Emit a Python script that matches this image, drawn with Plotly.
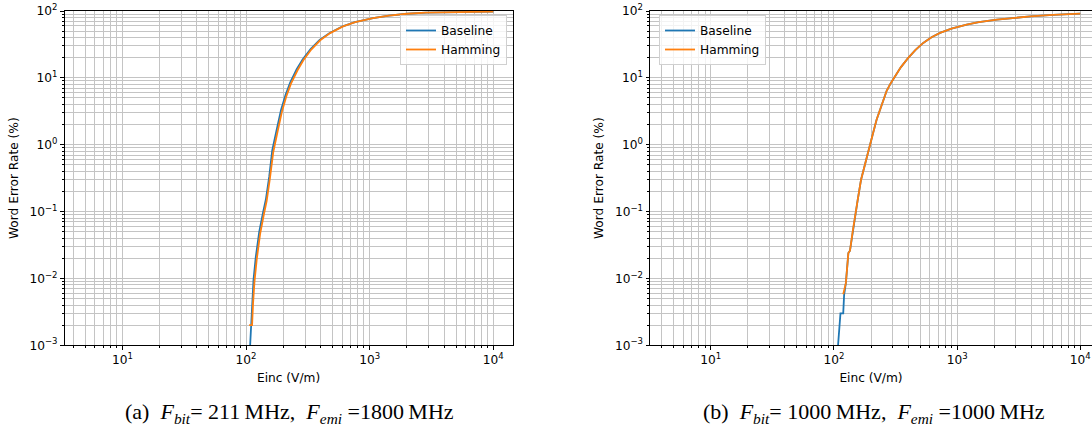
import plotly.graph_objects as go

# ---------------- data ----------------
# (a) F_bit = 211 MHz, F_emi = 1800 MHz
a_baseline_x = [108, 110, 112, 115, 120, 128, 137, 145, 154, 163, 176, 192, 209, 228, 257, 287, 333, 394, 475, 605, 760, 1063, 1430, 2006, 2850, 4750, 10000]
a_baseline_y = [0.001, 0.002, 0.0045, 0.0095, 0.021, 0.05, 0.095, 0.155, 0.33, 0.82, 1.6, 3.3, 5.6, 8.6, 13.5, 18.8, 27, 37, 47, 59, 68, 78.5, 85.5, 91, 94.3, 96.8, 98.3]
a_hamming_x = [106, 112, 114, 117, 122, 130, 139, 147, 156, 166, 179, 195, 212, 231, 261, 291, 337, 398, 479, 609, 764, 1066, 1433, 2010, 2855, 4755, 10000]
a_hamming_y = [0.002, 0.002, 0.0042, 0.0088, 0.019, 0.046, 0.088, 0.145, 0.31, 0.77, 1.5, 3.1, 5.3, 8.2, 13.0, 18.3, 26.5, 36.5, 46.7, 58.8, 67.9, 78.4, 85.4, 91, 94.3, 96.8, 98.3]

# (b) F_bit = 1000 MHz, F_emi = 1000 MHz
b_baseline_x = [108, 113, 119, 121, 125, 131, 135, 142, 148, 156, 166, 179, 194, 208, 222, 240, 268, 290, 313, 350, 401, 460, 531, 620, 727, 900, 1195, 1500, 2103, 2800, 3930, 6000, 10000]
b_baseline_y = [0.001, 0.003, 0.003, 0.0057, 0.0085, 0.024, 0.026, 0.05, 0.085, 0.15, 0.30, 0.53, 0.94, 1.5, 2.37, 3.7, 6.4, 8.4, 10.7, 14.5, 19.9, 26.3, 33.3, 40.5, 47, 54.5, 62.5, 68, 74.3, 79, 83.3, 87.8, 91.3]
b_hamming_x = [119, 125, 131, 135, 142, 148, 156, 166, 179, 194, 208, 222, 240, 268, 290, 313, 350, 401, 460, 531, 620, 727, 900, 1195, 1500, 2103, 2800, 3930, 6000, 10000]
b_hamming_y = [0.0058, 0.0085, 0.024, 0.026, 0.05, 0.085, 0.15, 0.30, 0.53, 0.94, 1.5, 2.37, 3.7, 6.4, 8.4, 10.7, 14.5, 19.9, 26.3, 33.3, 40.5, 47, 54.5, 62.5, 68, 74.3, 79, 83.3, 87.8, 91.3]

series_names = ["Baseline", "Hamming"]
series_colors = ["#1f77b4", "#ff7f0e"]

x_major = [10, 100, 1000, 10000]
x_major_text = ["10<sup>1</sup>", "10<sup>2</sup>", "10<sup>3</sup>", "10<sup>4</sup>"]
y_major = [0.001, 0.01, 0.1, 1, 10, 100]
y_major_text = ["10<sup>\u22123</sup>", "10<sup>\u22122</sup>", "10<sup>\u22121</sup>",
                "10<sup>0</sup>", "10<sup>1</sup>", "10<sup>2</sup>"]

x_label = "Einc (V/m)"
y_label = "Word Error Rate (%)"
captions = ["(a)  <i>F<sub>bit</sub></i>= 211\u2009MHz,  <i>F<sub>emi</sub></i> =1800\u2009MHz",
            "(b)  <i>F<sub>bit</sub></i>= 1000\u2009MHz,  <i>F<sub>emi</sub></i> =1000\u2009MHz"]

# ---------------- figure ----------------
W, H = 1092, 428
FONT = "DejaVu Sans"
FS = 12.2
GRID = "#c4c4c4"

def minor_vals(lo_exp, hi_exp):
    vals = []
    for e in range(lo_exp, hi_exp + 1):
        for m in range(2, 10):
            vals.append(m * 10.0 ** e)
    return vals

fig = go.Figure()

panels = [
    (a_baseline_x, a_baseline_y, a_hamming_x, a_hamming_y, "x", "y", "legend"),
    (b_baseline_x, b_baseline_y, b_hamming_x, b_hamming_y, "x2", "y2", "legend2"),
]
for bx, by, hx, hy, xa, ya, lg in panels:
    for name, col, xs, ys in [(series_names[0], series_colors[0], bx, by),
                              (series_names[1], series_colors[1], hx, hy)]:
        fig.add_trace(go.Scatter(x=xs, y=ys, mode="lines", name=name,
                                 line=dict(color=col, width=1.8),
                                 xaxis=xa, yaxis=ya, legend=lg))

ydom = [1 - 345.3 / H, 1 - 11 / H]

def xaxis_cfg(dom, rng, anchor):
    return dict(type="log", domain=dom, range=rng, anchor=anchor,
                tickmode="array", tickvals=x_major, ticktext=x_major_text,
                ticks="outside", ticklen=3.5, tickwidth=1, tickcolor="black",
                showline=True, linecolor="black", linewidth=1, mirror=True,
                showgrid=True, gridcolor=GRID, gridwidth=0.8,
                minor=dict(tickmode="array", tickvals=minor_vals(0, 4),
                           ticks="outside", ticklen=2, tickcolor="black", tickwidth=0.8,
                           showgrid=True, gridcolor=GRID, gridwidth=0.8),
                tickfont=dict(family=FONT, size=FS, color="black"),
                title=dict(text=x_label, font=dict(family=FONT, size=FS, color="black"), standoff=7),
                zeroline=False, automargin=False)

def yaxis_cfg(anchor):
    return dict(type="log", domain=ydom, range=[-3, 2], anchor=anchor,
                tickmode="array", tickvals=y_major, ticktext=y_major_text,
                ticks="outside", ticklen=3.5, tickwidth=1, tickcolor="black",
                showline=True, linecolor="black", linewidth=1, mirror=True,
                showgrid=True, gridcolor=GRID, gridwidth=0.8,
                minor=dict(tickmode="array", tickvals=minor_vals(-3, 1),
                           ticks="outside", ticklen=2, tickcolor="black", tickwidth=0.8,
                           showgrid=True, gridcolor=GRID, gridwidth=0.8),
                tickfont=dict(family=FONT, size=FS, color="black"),
                title=dict(text=y_label, font=dict(family=FONT, size=FS, color="black"), standoff=8),
                zeroline=False, automargin=False)

legend_common = dict(bgcolor="rgba(255,255,255,0.8)", bordercolor="#d0d0d0", borderwidth=1,
                     font=dict(family=FONT, size=FS, color="black"),
                     yanchor="top", tracegroupgap=0, itemwidth=30)

fig.update_layout(
    width=W, height=H,
    margin=dict(l=0, r=0, t=0, b=0),
    paper_bgcolor="white", plot_bgcolor="white",
    xaxis=xaxis_cfg([64.5 / W, 512.7 / W], [0.532, 4.157], "y"),
    yaxis=yaxis_cfg("x"),
    xaxis2=xaxis_cfg([650 / W, 1.0], [0.507, 4.095], "y2"),
    yaxis2=yaxis_cfg("x2"),
    legend=dict(x=507 / W, xanchor="right", y=1 - 15 / H, **legend_common),
    legend2=dict(x=659 / W, xanchor="left", y=1 - 15 / H, **legend_common),
    showlegend=True,
)

for cap, cx in zip(captions, [289.5, 874]):
    fig.add_annotation(text=cap, x=cx / W, y=1 - 413 / H, xref="paper", yref="paper",
                       xanchor="center", yanchor="middle", showarrow=False,
                       font=dict(family="Liberation Serif", size=22, color="black"))

fig.write_html("out.html", config={"displayModeBar": False},
               post_script="document.body.style.margin='0px';document.body.style.overflow='hidden';")
